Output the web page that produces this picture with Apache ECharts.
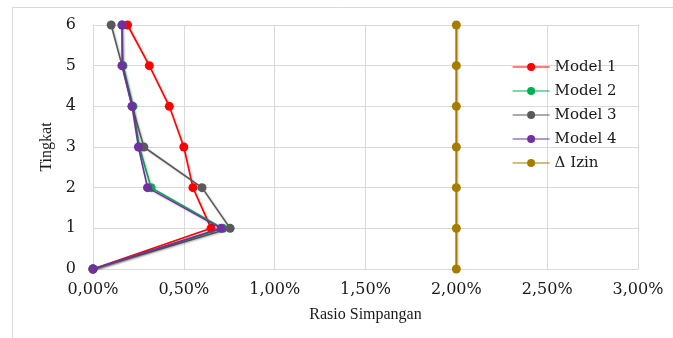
<!DOCTYPE html>
<html><head><meta charset="utf-8">
<script src="https://cdn.jsdelivr.net/npm/echarts@6/dist/echarts.min.js"></script>
<style>html,body{margin:0;padding:0;background:#fff}#c{width:673px;height:338px}</style>
</head><body><div id="c"></div>
<script>
const levels = [0, 1, 2, 3, 4, 5, 6];
const model1 = [0, 0.65, 0.55, 0.50, 0.42, 0.31, 0.19];
const model2 = [0, 0.715, 0.32, 0.255, 0.22, 0.165, 0.16];
const model3 = [0, 0.755, 0.60, 0.28, 0.215, 0.16, 0.10];
const model4 = [0, 0.705, 0.30, 0.25, 0.215, 0.16, 0.16];
const izin = [2, 2, 2, 2, 2, 2, 2];
const names = ['Model 1', 'Model 2', 'Model 3', 'Model 4', '\u0394 Izin'];
const colors = ['#FF0000', '#00B050', '#595959', '#7030A0', '#A67C00'];
const seriesData = [model1, model2, model3, model4, izin];

const font = 'DejaVu Serif';
const tfont = 'Liberation Serif';
const chart = echarts.init(document.getElementById('c'));
chart.setOption({
  animation: false,
  backgroundColor: '#fff',
  graphic: [{type: 'rect', shape: {x: 12.5, y: 7.5, width: 700, height: 400}, style: {fill: 'none', stroke: '#D9D9D9', lineWidth: 1}, silent: true}],
  grid: {left: 93, right: 35, top: 25, bottom: 69},
  legend: {
    orient: 'vertical', left: 507, top: 54, itemWidth: 37, itemHeight: 10, itemGap: 8,
    textStyle: {fontFamily: font, fontSize: 15, lineHeight: 16, color: '#1a1a1a'},
    lineStyle: {width: 1.2, shadowBlur: 0, shadowOffsetX: 0, shadowOffsetY: 0},
    data: names
  },
  xAxis: {
    type: 'value', min: 0, max: 3, interval: 0.5,
    name: 'Rasio Simpangan', nameLocation: 'middle', nameGap: 38,
    nameTextStyle: {fontFamily: tfont, fontSize: 16, color: '#1a1a1a'},
    axisLine: {show: true, lineStyle: {color: '#D9D9D9'}},
    axisTick: {show: false},
    splitLine: {show: true, lineStyle: {color: '#D9D9D9'}},
    axisLabel: {fontFamily: font, fontSize: 16, color: '#1a1a1a', margin: 13,
      formatter: v => v.toFixed(2).replace('.', ',') + '%'}
  },
  yAxis: {
    type: 'value', min: 0, max: 6, interval: 1,
    name: 'Tingkat', nameLocation: 'middle', nameGap: 33,
    nameTextStyle: {fontFamily: tfont, fontSize: 16, color: '#1a1a1a'},
    axisLine: {show: true, lineStyle: {color: '#D9D9D9'}},
    axisTick: {show: false},
    splitLine: {show: true, lineStyle: {color: '#D9D9D9'}},
    axisLabel: {fontFamily: font, fontSize: 16, color: '#1a1a1a', margin: 17}
  },
  series: seriesData.map((d, i) => ({
    name: names[i], type: 'line',
    data: d.map((x, k) => [x, levels[k]]),
    symbol: 'circle', symbolSize: 9,
    itemStyle: {color: colors[i]},
    lineStyle: {color: colors[i], width: i === 4 ? 2 : 1.6,
      shadowColor: 'rgba(0,0,0,0.25)', shadowBlur: 2, shadowOffsetX: 1, shadowOffsetY: 1},
    z: 2 + i
  }))
});
</script></body></html>
